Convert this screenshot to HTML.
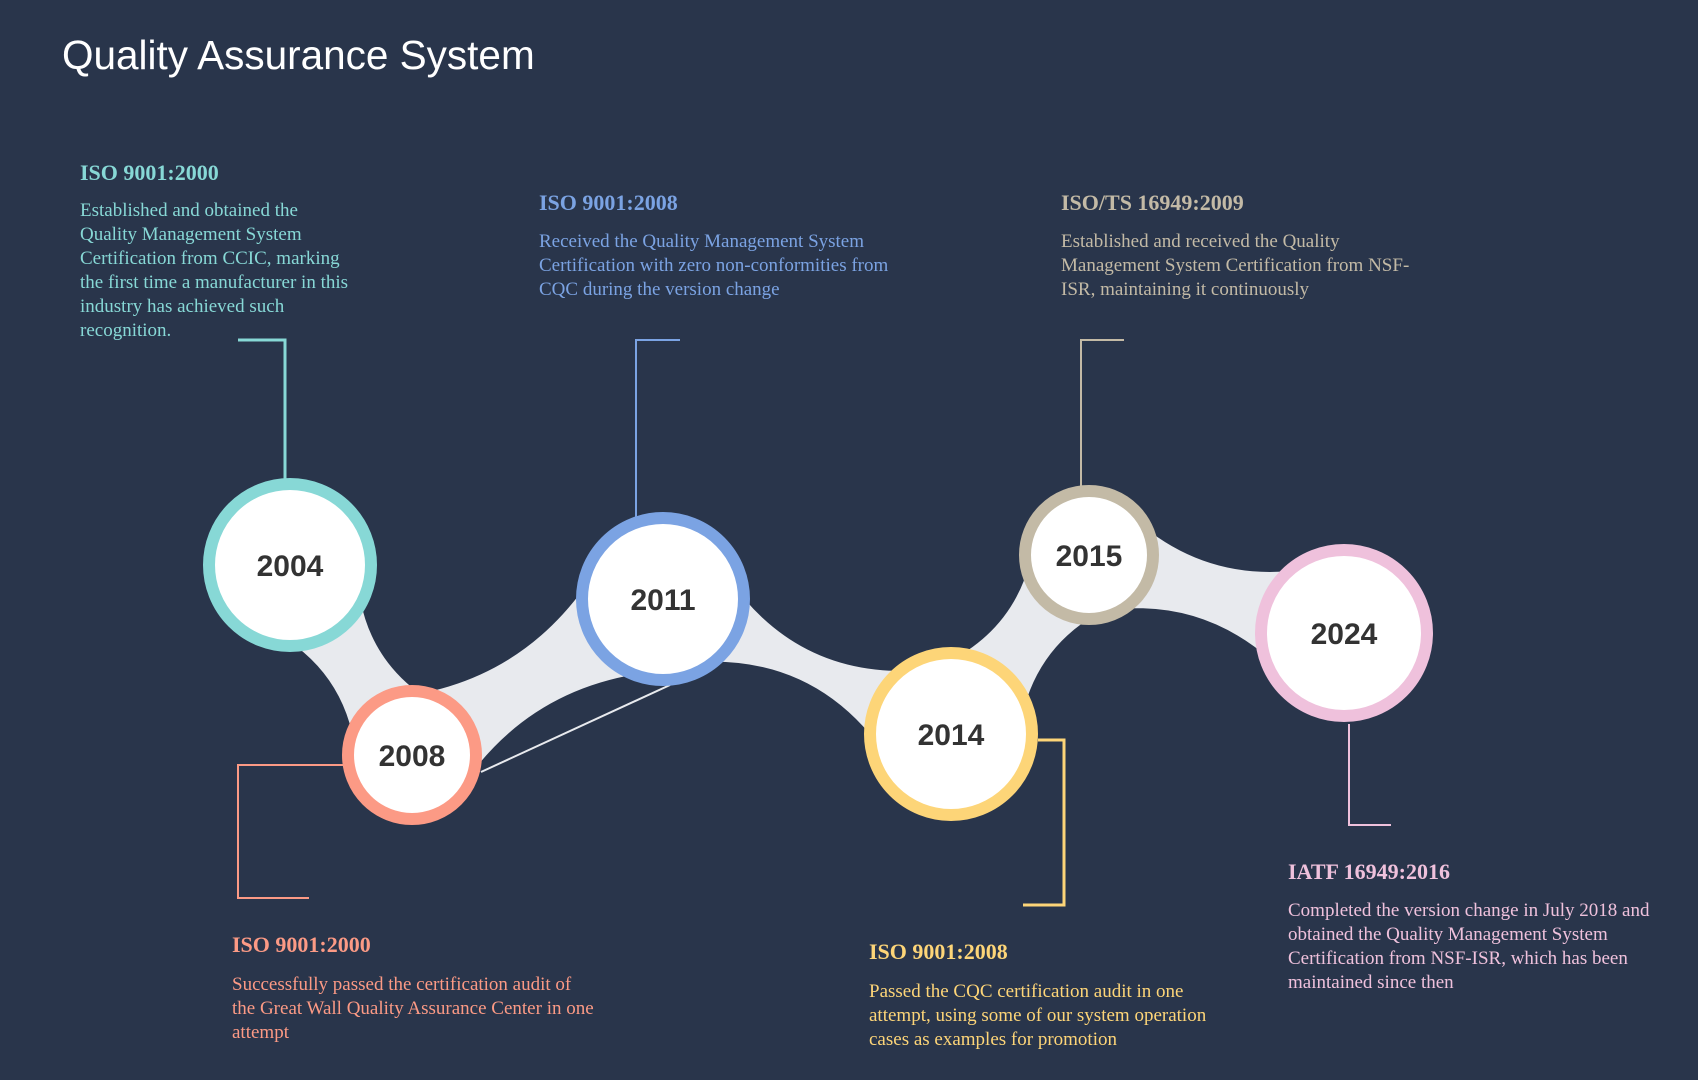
<!DOCTYPE html>
<html><head><meta charset="utf-8"><style>
html,body{margin:0;padding:0;background:#29354b;}
svg{display:block;}
.h{font-family:"Liberation Serif",serif;font-weight:bold;font-size:22px;}
.b{font-family:"Liberation Serif",serif;font-size:19px;}
.y{font-family:"Liberation Sans",sans-serif;font-weight:bold;font-size:30px;fill:#333;text-anchor:middle;}
</style></head><body>
<svg width="1698" height="1080" viewBox="0 0 1698 1080" xmlns="http://www.w3.org/2000/svg">
<rect width="1698" height="1080" fill="#29354b"/>
<text x="62" y="69" font-family="Liberation Sans, sans-serif" font-size="40.5" fill="#ffffff">Quality Assurance System</text>

<g fill="#e8eaee">
<path d="M 220 610 Q 363 651 357 791 L 467 719 Q 338 668 360 520 Z"/>
<path d="M 377 699 Q 544 689 619 528 L 707 670 Q 529 664 447 811 Z"/>
<path d="M 698 524 Q 784 713 986 659 L 916 809 Q 830 619 628 674 Z"/>
<path d="M 885 683 Q 1031 653 1037 515 L 1141 595 Q 1009 636 1017 785 Z"/>
<path d="M 1108 492 Q 1211 612 1369 552 L 1319 714 Q 1221 576 1070 618 Z"/>
</g>
<line x1="481" y1="772" x2="670" y2="685" stroke="#e8eaee" stroke-width="2"/>

<g fill="none" stroke-width="3">
<polyline points="238,340 285,340 285,480" stroke="#87d8d6"/>
<polyline points="680,340 636,340 636,518" stroke="#7ba3e3" stroke-width="2"/>
<polyline points="1124,340 1081,340 1081,487" stroke="#c3baa6" stroke-width="2"/>
<polyline points="345,765 238,765 238,898 309,898" stroke="#fc9a85" stroke-width="2"/>
<polyline points="1038,740 1064,740 1064,905 1023,905" stroke="#fdd578"/>
<polyline points="1349,724 1349,825 1391,825" stroke="#efc1dc" stroke-width="2"/>
</g>

<g>
<circle cx="290" cy="565" r="81" fill="#fff" stroke="#87d8d6" stroke-width="12"/>
<circle cx="412" cy="755" r="64" fill="#fff" stroke="#fc9a85" stroke-width="12"/>
<circle cx="663" cy="599" r="81" fill="#fff" stroke="#7ba3e3" stroke-width="12"/>
<circle cx="951" cy="734" r="81" fill="#fff" stroke="#fdd578" stroke-width="12"/>
<circle cx="1089" cy="555" r="64" fill="#fff" stroke="#c3baa6" stroke-width="12"/>
<circle cx="1344" cy="633" r="83" fill="#fff" stroke="#efc1dc" stroke-width="12"/>
</g>
<text class="y" x="290" y="576">2004</text>
<text class="y" x="412" y="766">2008</text>
<text class="y" x="663" y="610">2011</text>
<text class="y" x="951" y="745">2014</text>
<text class="y" x="1089" y="566">2015</text>
<text class="y" x="1344" y="644">2024</text>

<g fill="#87d8d6">
<text class="h" x="80" y="180">ISO 9001:2000</text>
<text class="b" x="80" y="216">Established and obtained the<tspan x="80" dy="24">Quality Management System</tspan><tspan x="80" dy="24">Certification from CCIC, marking</tspan><tspan x="80" dy="24">the first time a manufacturer in this</tspan><tspan x="80" dy="24">industry has achieved such</tspan><tspan x="80" dy="24">recognition.</tspan></text>
</g>
<g fill="#7ba3e3">
<text class="h" x="539" y="210">ISO 9001:2008</text>
<text class="b" x="539" y="247">Received the Quality Management System<tspan x="539" dy="24">Certification with zero non-conformities from</tspan><tspan x="539" dy="24">CQC during the version change</tspan></text>
</g>
<g fill="#c3baa6">
<text class="h" x="1061" y="210">ISO/TS 16949:2009</text>
<text class="b" x="1061" y="247">Established and received the Quality<tspan x="1061" dy="24">Management System Certification from NSF-</tspan><tspan x="1061" dy="24">ISR, maintaining it continuously</tspan></text>
</g>
<g fill="#fc9a85">
<text class="h" x="232" y="952">ISO 9001:2000</text>
<text class="b" x="232" y="990">Successfully passed the certification audit of<tspan x="232" dy="24">the Great Wall Quality Assurance Center in one</tspan><tspan x="232" dy="24">attempt</tspan></text>
</g>
<g fill="#fdd578">
<text class="h" x="869" y="959">ISO 9001:2008</text>
<text class="b" x="869" y="997">Passed the CQC certification audit in one<tspan x="869" dy="24">attempt, using some of our system operation</tspan><tspan x="869" dy="24">cases as examples for promotion</tspan></text>
</g>
<g fill="#efc1dc">
<text class="h" x="1288" y="879">IATF 16949:2016</text>
<text class="b" x="1288" y="916">Completed the version change in July 2018 and<tspan x="1288" dy="24">obtained the Quality Management System</tspan><tspan x="1288" dy="24">Certification from NSF-ISR, which has been</tspan><tspan x="1288" dy="24">maintained since then</tspan></text>
</g>
</svg>
</body></html>
